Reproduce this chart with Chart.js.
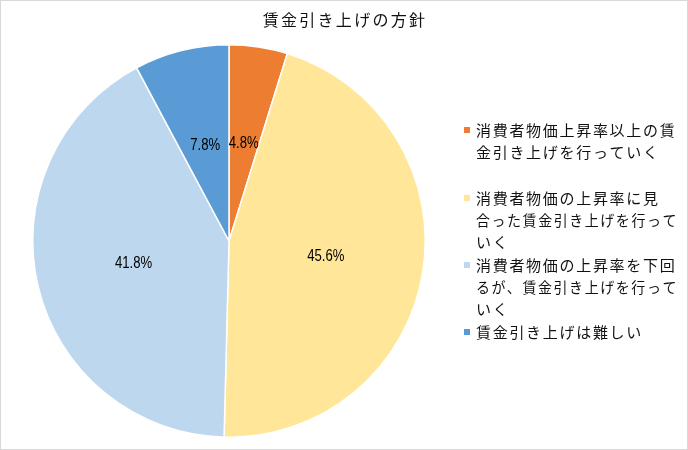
<!DOCTYPE html>
<html>
<head>
<meta charset="utf-8">
<script src="https://cdn.jsdelivr.net/npm/chart.js@4/dist/chart.umd.min.js"></script>
<style>
  html, body { margin: 0; padding: 0; background: #fff; }
  #wrap { width: 688px; height: 450px; position: relative; }
</style>
</head>
<body>
<div id="wrap"><canvas id="chart" width="688" height="450"></canvas></div>
<script>
const title = "賃金引き上げの方針";
const categories = [
  ["消費者物価上昇率以上の賃", "金引き上げを行っていく"],
  ["消費者物価の上昇率に見", "合った賃金引き上げを行って", "いく"],
  ["消費者物価の上昇率を下回", "るが、賃金引き上げを行って", "いく"],
  ["賃金引き上げは難しい"]
];
const values = [4.8, 45.6, 41.8, 7.8];
const colors = ["#ED7D31", "#FFE699", "#BDD7EE", "#5B9BD5"];

const JP = '"Noto Sans CJK JP", sans-serif';

// title, percent labels, legend and frame drawn by hand
const decor = {
  id: "decor",
  afterDatasetsDraw(chart) {
    const ctx = chart.ctx;
    ctx.save();
    ctx.fillStyle = "#111";
    ctx.font = "16px " + JP;
    ctx.letterSpacing = "2.3px";
    ctx.textAlign = "center";
    ctx.textBaseline = "middle";
    ctx.fillText(title, 345, 20);

    // percent labels (narrow look via horizontal squeeze)
    ctx.letterSpacing = "0px";
    ctx.font = '16px "Liberation Sans", sans-serif';
    ctx.fillStyle = "#000";
    chart.getDatasetMeta(0).data.forEach((arc, i) => {
      const p = arc.tooltipPosition();
      ctx.save();
      ctx.translate(p.x, p.y);
      ctx.scale(0.82, 1);
      ctx.fillText(values[i].toFixed(1) + "%", 0, 0);
      ctx.restore();
    });

    // legend
    const itemTop = [130, 198, 265, 332];
    ctx.textAlign = "left";
    ctx.font = "15px " + JP;
    ctx.letterSpacing = "1.7px";
    categories.forEach((lines, i) => {
      ctx.fillStyle = colors[i];
      ctx.fillRect(464, itemTop[i] - 3, 6, 6);
      ctx.fillStyle = "#111";
      lines.forEach((t, j) => ctx.fillText(t, 476, itemTop[i] + j * 22, 202));
    });

    ctx.letterSpacing = "0px";
    ctx.strokeStyle = "#d9d9d9";
    ctx.lineWidth = 1;
    ctx.strokeRect(0.5, 0.5, 687, 449);
    ctx.restore();
  }
};

new Chart(document.getElementById("chart"), {
  type: "pie",
  data: {
    labels: categories,
    datasets: [{
      data: values,
      backgroundColor: colors,
      borderColor: "#fff",
      borderWidth: 1.5
    }]
  },
  options: {
    responsive: false,
    animation: false,
    layout: { padding: { left: 32, right: 262, top: 44, bottom: 12 } },
    plugins: {
      legend: { display: false },
      tooltip: { enabled: false }
    }
  },
  plugins: [decor]
});
</script>
</body>
</html>
